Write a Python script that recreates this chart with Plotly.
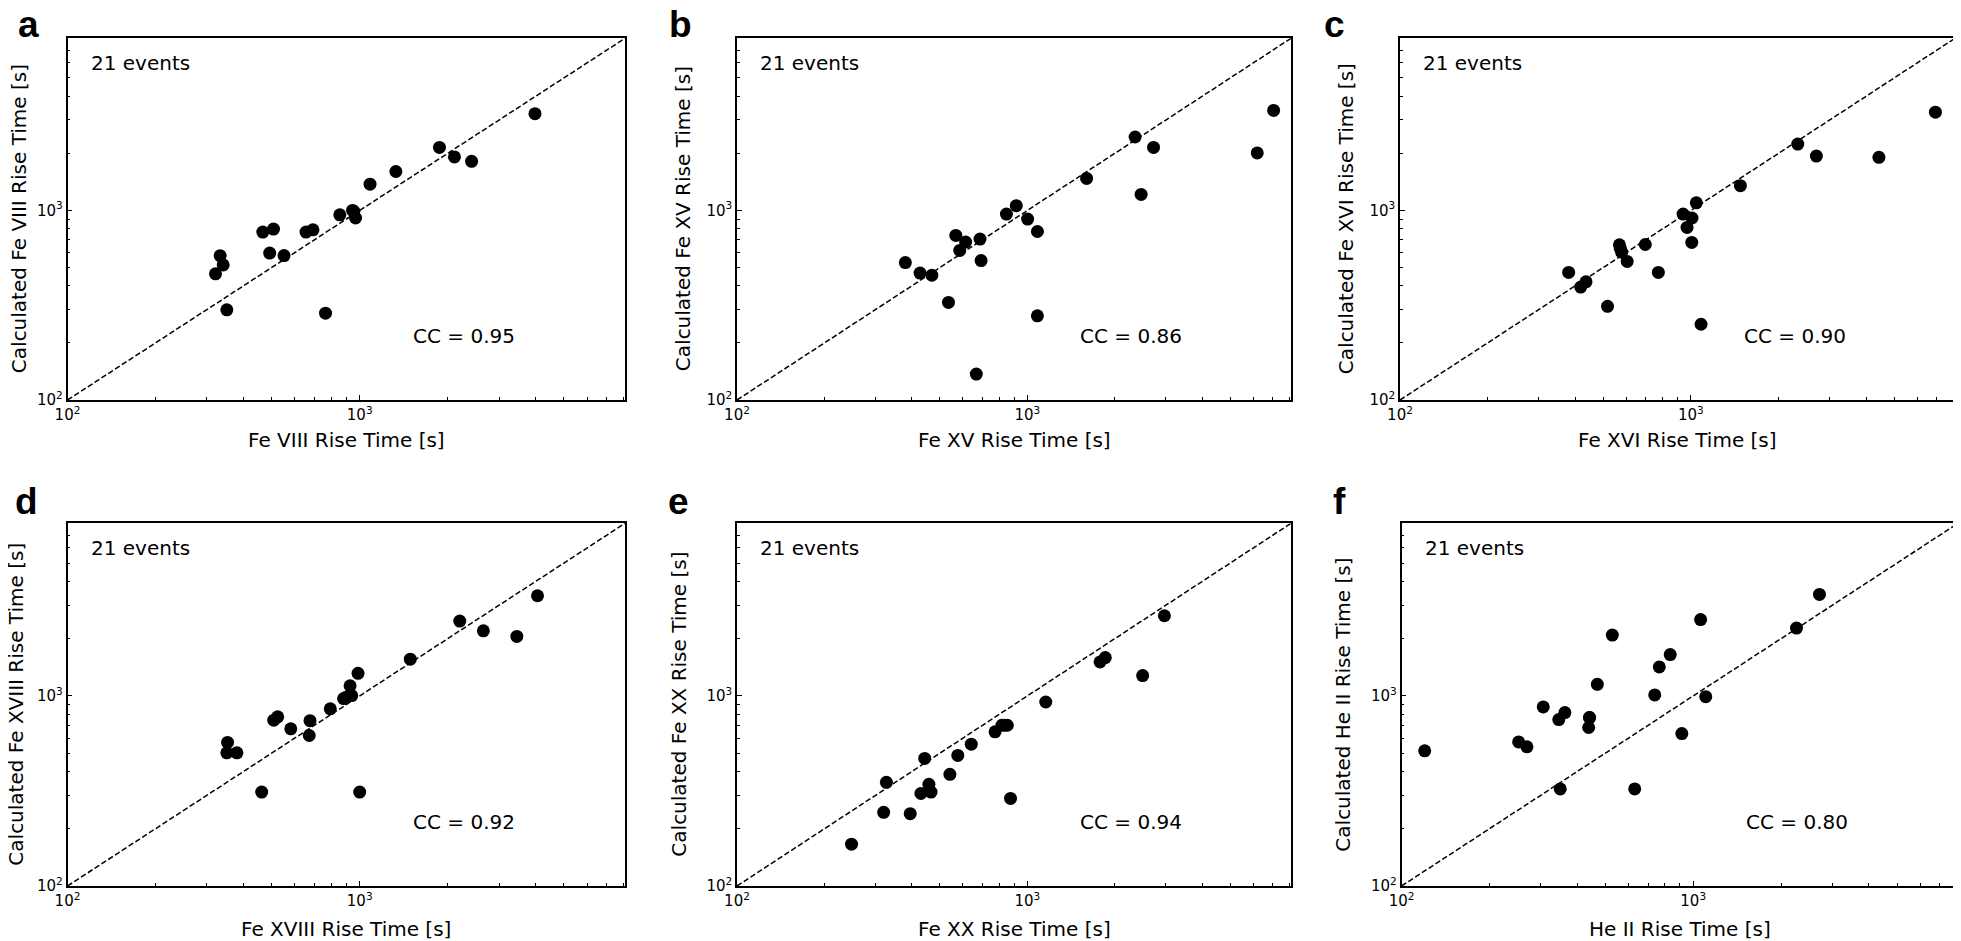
import plotly.graph_objects as go

# observed rise time (x) vs calculated rise time (y), seconds
fe8_obs = [3980, 1875, 2110, 2415, 1330, 1085, 945, 855, 968, 466, 507, 655, 692, 492, 551, 333, 341, 321, 351, 764, 955]
fe8_calc = [3240, 2150, 1915, 1815, 1605, 1375, 1000, 948, 912, 769, 797, 769, 790, 596, 578, 577, 516, 463, 299, 287, 990]

fe15_obs = [7050, 6190, 2350, 2720, 1600, 2465, 916, 847, 1002, 1083, 567, 613, 687, 585, 693, 380, 427, 469, 535, 1083, 667]
fe15_calc = [3370, 2010, 2440, 2150, 1475, 1215, 1060, 957, 900, 774, 738, 681, 706, 615, 544, 531, 467, 455, 327, 278, 137]

fe16_obs = [6930, 2330, 2700, 4430, 1480, 1044, 940, 1009, 970, 1007, 568, 697, 578, 604, 380, 773, 418, 436, 517, 1084, 572]
fe16_calc = [3300, 2240, 1935, 1905, 1350, 1097, 957, 912, 813, 678, 659, 661, 602, 538, 471, 471, 394, 420, 312, 251, 630]

fe18_obs = [4060, 2200, 2650, 3450, 1490, 987, 927, 939, 881, 793, 676, 524, 508, 581, 672, 353, 351, 380, 462, 1000, 900]
fe18_calc = [3365, 2475, 2200, 2055, 1560, 1315, 1130, 1004, 968, 855, 741, 776, 745, 671, 619, 569, 502, 502, 312, 312, 985]

fe20_obs = [2965, 1780, 1855, 2495, 1157, 774, 817, 853, 641, 576, 443, 541, 327, 458, 430, 466, 875, 320, 395, 248, 835]
fe20_calc = [2640, 1510, 1590, 1280, 929, 647, 701, 701, 557, 486, 469, 387, 351, 343, 307, 312, 289, 244, 240, 166, 701]

he2_obs = [2710, 2260, 1060, 528, 834, 765, 469, 738, 1104, 306, 363, 346, 441, 438, 914, 252, 269, 120, 350, 630, 441]
he2_calc = [3420, 2275, 2520, 2090, 1650, 1420, 1150, 1012, 991, 875, 817, 751, 769, 682, 634, 573, 540, 514, 324, 324, 769]

lines = ["Fe VIII", "Fe XV", "Fe XVI", "Fe XVIII", "Fe XX", "He II"]
cc_values = ["0.95", "0.86", "0.90", "0.92", "0.94", "0.80"]
panel_letters = ["a", "b", "c", "d", "e", "f"]
n_events = 21

observed = [fe8_obs, fe15_obs, fe16_obs, fe18_obs, fe20_obs, he2_obs]
calculated = [fe8_calc, fe15_calc, fe16_calc, fe18_calc, fe20_calc, he2_calc]

major_ticks = [100, 1000]
major_text = ["10<sup>2</sup>", "10<sup>3</sup>"]
minor_ticks = [200, 300, 400, 500, 600, 700, 800, 900, 2000, 3000, 4000, 5000, 6000, 7000, 8000]
log_range = [2, 3.908]
diag = [10 ** log_range[0], 10 ** log_range[1]]

W, H = 1961, 941
OFF = 8  # page body margin: the plot div sits 8px in from the window edge

# panel boxes in window pixels: left, right, top, bottom
boxes = [
    (67.5, 625, 38.3, 400), (737, 1291, 38.3, 400), (1400, 1955, 38.3, 400),
    (67.5, 625, 523.3, 886), (737, 1291, 523.3, 886), (1401.6, 1958, 523.3, 886),
]
letter_pos = [(16, 24), (667, 24), (1322, 24), (13, 501), (666, 501), (1331, 501)]
ytitle_x = [19, 683, 1346, 16, 679, 1343]
xtitle_y = [440, 440, 440, 929, 929, 929]

FONT = "DejaVu Sans"
fig = go.Figure()
annotations = []


def px(x):
    return (x - OFF) / W


def py(y):
    return 1 - (y - OFF) / H


for i in range(6):
    n = "" if i == 0 else str(i + 1)
    xa, ya = "x" + n, "y" + n
    left, right, top, bottom = boxes[i]

    fig.add_trace(go.Scatter(
        x=diag, y=diag, mode="lines", xaxis=xa, yaxis=ya,
        line=dict(color="black", width=1.5, dash="5.5px,2.6px"),
        showlegend=False, hoverinfo="skip",
    ))
    fig.add_trace(go.Scatter(
        x=observed[i], y=calculated[i], mode="markers", xaxis=xa, yaxis=ya,
        marker=dict(color="black", size=13),
        showlegend=False,
    ))

    axis_common = dict(
        type="log", range=log_range, showgrid=False, zeroline=False,
        showline=True, linecolor="black", linewidth=1.6, mirror=True,
        ticks="inside", ticklen=5, tickwidth=1.2, tickcolor="black",
        tickmode="array", tickvals=major_ticks, ticktext=major_text,
        tickfont=dict(family=FONT, size=15, color="black"),
        minor=dict(ticks="inside", ticklen=3, tickwidth=1, tickcolor="black",
                   tickmode="array", tickvals=minor_ticks),
        automargin=False,
    )
    fig.update_layout({
        "xaxis" + n: dict(axis_common, domain=[px(left), px(right)], anchor=ya),
        "yaxis" + n: dict(axis_common, domain=[py(bottom), py(top)], anchor=xa),
    })

    annotations.append(dict(
        text=f"{n_events} events", xref=xa + " domain", yref=ya + " domain",
        x=0.038, y=0.931, xanchor="left", yanchor="middle", showarrow=False,
        font=dict(family=FONT, size=20, color="black"),
    ))
    annotations.append(dict(
        text=f"CC = {cc_values[i]}", xref=xa + " domain", yref=ya + " domain",
        x=0.616, y=0.177, xanchor="left", yanchor="middle", showarrow=False,
        font=dict(family=FONT, size=20, color="black"),
    ))
    annotations.append(dict(
        text=f"{lines[i]} Rise Time [s]", xref="paper", yref="paper",
        x=px((left + right) / 2), y=py(xtitle_y[i]),
        xanchor="center", yanchor="middle", showarrow=False,
        font=dict(family=FONT, size=20, color="black"),
    ))
    annotations.append(dict(
        text=f"Calculated {lines[i]} Rise Time [s]", xref="paper", yref="paper",
        x=px(ytitle_x[i]), y=py((top + bottom) / 2), textangle=-90,
        xanchor="center", yanchor="middle", showarrow=False,
        font=dict(family=FONT, size=20, color="black"),
    ))
    lx, ly = letter_pos[i]
    annotations.append(dict(
        text=f"<b>{panel_letters[i]}</b>", xref="paper", yref="paper",
        x=px(lx), y=py(ly), xanchor="left", yanchor="middle", showarrow=False,
        font=dict(family="Liberation Sans", size=37, color="black"),
    ))

fig.update_layout(
    width=W, height=H,
    margin=dict(l=0, r=0, t=0, b=0),
    paper_bgcolor="white", plot_bgcolor="white",
    annotations=annotations,
)

fig.write_html("out.html")
